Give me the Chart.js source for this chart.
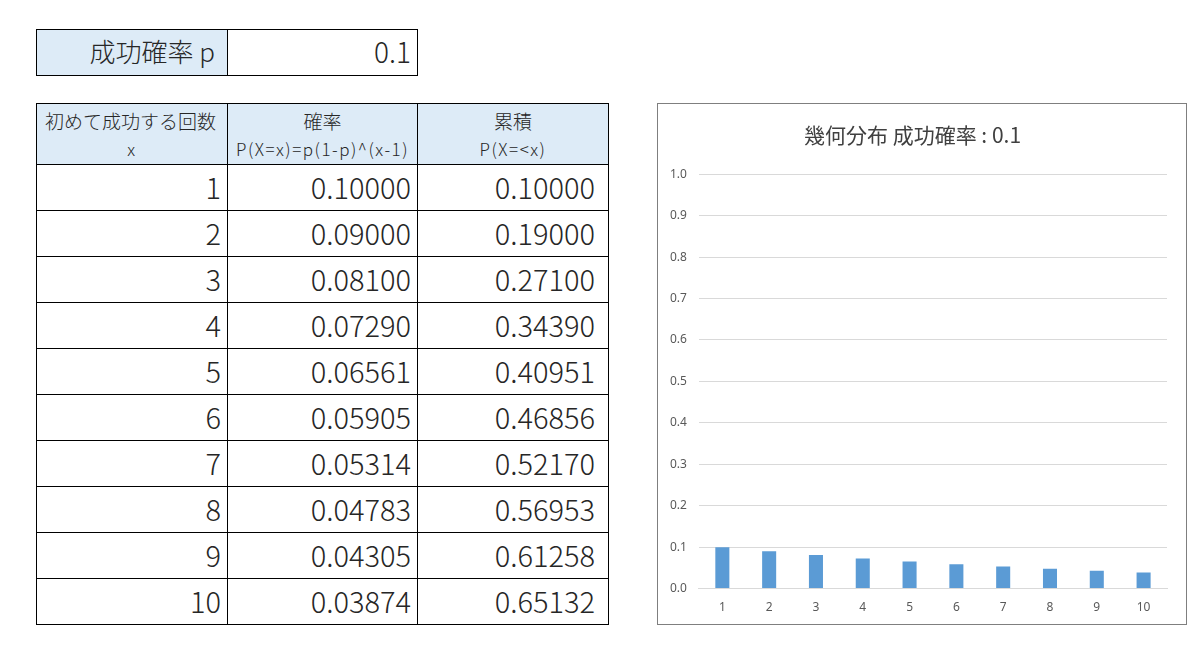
<!DOCTYPE html>
<html lang="ja">
  <head>
    <meta charset="UTF-8" />
    <script src="https://cdn.jsdelivr.net/npm/chart.js"></script>
    <style>
      body {
        margin: 0;
        background: #ffffff;
        font-family: "Noto Sans CJK JP", "Noto Sans", sans-serif;
        color: #262626;
        width: 1200px;
        height: 654px;
        position: relative;
        overflow: hidden;
      }

      table {
        position: absolute;
        border-collapse: collapse;
        table-layout: fixed;
      }

      td {
        border: 1px solid #000000;
        padding: 0 6px 3px 0;
        text-align: right;
        white-space: nowrap;
        overflow: hidden;
        line-height: 1;
        font-weight: 300;
      }

      .head { background: #ddebf7; }

      #param { left: 36px; top: 29px; }
      #param td { height: 42px; font-size: 28px; }
      #param td.head { font-size: 26px; padding-right: 12px; }

      #dist { left: 36px; top: 103px; }
      #dist td { height: 42px; font-size: 29px; }
      #dist td:nth-child(3) { padding-right: 13px; }
      #dist th {
        border: 1px solid #000000;
        background: #ddebf7;
        font-weight: 300;
        text-align: center;
        height: 60px;
        padding: 0;
        line-height: 1;
      }
      #dist th .l1 { font-size: 19px; display: block; margin-bottom: 10px; }
      #dist th .l2 { font-size: 17px; display: block; letter-spacing: 1.5px; }

      #chart-box {
        position: absolute;
        left: 657px;
        top: 103px;
        width: 528px;
        height: 520px;
        border: 1px solid #7f7f7f;
      }
    </style>
  </head>
  <body>
    <table id="param">
      <colgroup><col style="width:191px" /><col style="width:190px" /></colgroup>
      <tr><td class="head">成功確率 p</td><td id="p-cell"></td></tr>
    </table>

    <table id="dist">
      <colgroup>
        <col style="width:191px" /><col style="width:190px" /><col style="width:191px" />
      </colgroup>
      <thead>
        <tr>
          <th><span class="l1" style="text-align:left;padding-left:8px">初めて成功する回数</span><span class="l2">x</span></th>
          <th><span class="l1">確率</span><span class="l2">P(X=x)=p(1-p)^(x-1)</span></th>
          <th><span class="l1">累積</span><span class="l2">P(X=&lt;x)</span></th>
        </tr>
      </thead>
      <tbody id="rows"></tbody>
    </table>

    <div id="chart-box"><canvas id="chart"></canvas></div>

    <script>
      const successRate = 0.1;
      const trials = ["1", "2", "3", "4", "5", "6", "7", "8", "9", "10"];
      const probs = [0.10000, 0.09000, 0.08100, 0.07290, 0.06561, 0.05905, 0.05314, 0.04783, 0.04305, 0.03874];
      const cumulative = [0.10000, 0.19000, 0.27100, 0.34390, 0.40951, 0.46856, 0.52170, 0.56953, 0.61258, 0.65132];

      document.getElementById("p-cell").textContent = successRate;

      const tbody = document.getElementById("rows");
      trials.forEach((t, i) => {
        const tr = document.createElement("tr");
        [t, probs[i].toFixed(5), cumulative[i].toFixed(5)].forEach(v => {
          const td = document.createElement("td");
          td.textContent = v;
          tr.appendChild(td);
        });
        tbody.appendChild(tr);
      });

      const grey = "#595959";

      new Chart(document.getElementById("chart"), {
        type: "bar",
        data: {
          labels: trials,
          datasets: [{
            data: probs,
            backgroundColor: "#5b9bd5",
            barPercentage: 0.6,
            categoryPercentage: 0.5
          }]
        },
        options: {
          responsive: true,
          maintainAspectRatio: false,
          animation: false,
          layout: { padding: { left: 0, right: 19, top: 0, bottom: 5 } },
          plugins: {
            legend: { display: false },
            tooltip: { enabled: false },
            title: {
              display: true,
              text: "幾何分布 成功確率 : " + successRate,
              color: "#404040",
              font: { family: "Noto Sans CJK JP", size: 21, weight: "normal" },
              padding: { top: 18, bottom: 27 }
            }
          },
          scales: {
            y: {
              min: 0,
              max: 1,
              ticks: {
                stepSize: 0.1,
                color: grey,
                padding: 12,
                font: { family: "Noto Sans", size: 12 },
                callback: v => v.toFixed(1)
              },
              grid: { color: "#d9d9d9", drawTicks: false },
              border: { display: false }
            },
            x: {
              ticks: { color: grey, padding: 4, font: { family: "Noto Sans", size: 12 } },
              grid: { display: false },
              border: { color: "#d9d9d9" }
            }
          }
        }
      });
    </script>
  </body>
</html>
